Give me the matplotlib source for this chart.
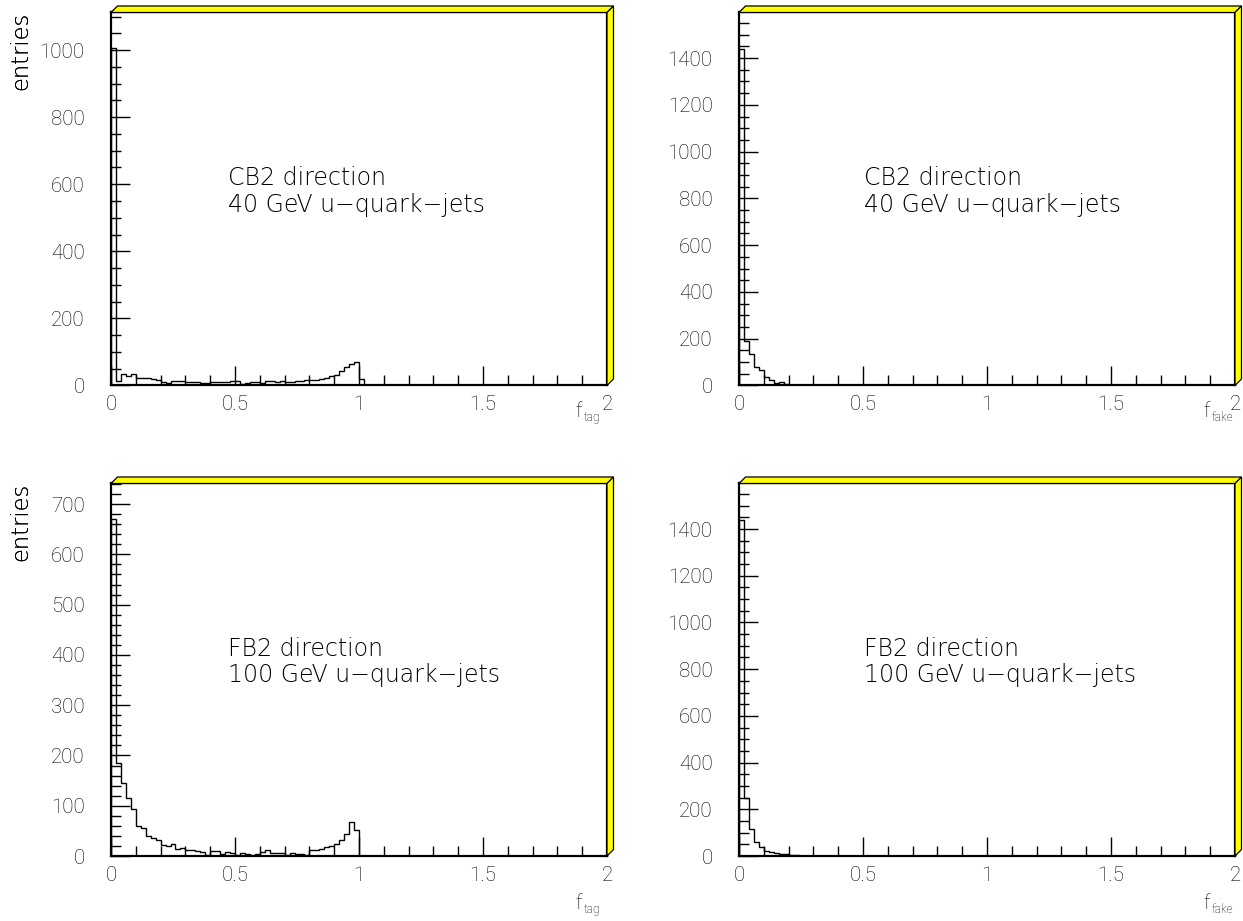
import numpy as np
import matplotlib.pyplot as plt
from matplotlib.patches import Polygon
from matplotlib.ticker import MultipleLocator

# histogram contents, 0.02 wide bins starting at 0 (remaining bins are empty)
BIN_WIDTH = 0.02

tag_cb2_40 = [1005, 12, 35, 28, 35, 22, 22, 22, 20, 17,
              10, 8, 13, 13, 12, 10, 11, 9, 8, 8,
              11, 11, 11, 11, 12, 12, 5, 7, 10, 10,
              6, 13, 14, 11, 13, 9, 10, 12, 13, 16,
              17, 17, 20, 22, 27, 32, 42, 55, 65, 70,
              18]
fake_cb2_40 = [1440, 190, 135, 80, 65, 35, 25, 12, 15, 6,
               3, 2, 4, 2, 1]
tag_fb2_100 = [670, 185, 145, 115, 93, 59, 55, 40, 35, 31,
               22, 19, 24, 14, 15, 12, 11, 9, 7, 2,
               10, 9, 4, 7, 5, 1, 5, 4, 2, 3,
               7, 11, 5, 5, 5, 2, 5, 3, 3, 2,
               11, 12, 14, 18, 20, 24, 32, 43, 67, 51]
fake_fb2_100 = [1440, 250, 114, 62, 40, 21, 16, 11, 10, 7,
                4, 4, 2, 2]

W, H = 1243, 921
plt.rcParams['font.family'] = ['Roboto', 'DejaVu Sans']
plt.rcParams['font.weight'] = 'light'
FS = 14.8
TEXT_FONT = ['DejaVu Sans', 'Roboto']
TEXT_FS = 17


def px_box(left, top, right, bottom):
    return [left / W, 1 - bottom / H, (right - left) / W, (bottom - top) / H]


def draw_frame(fig, ax, depth=6.5):
    # yellow bevel on top and right of the pad frame
    b = ax.get_position()
    dx, dy = depth / W, depth / H
    top = [(b.x0, b.y1), (b.x1, b.y1), (b.x1 + dx, b.y1 + dy), (b.x0 + dx, b.y1 + dy)]
    right = [(b.x1, b.y0), (b.x1 + dx, b.y0 + dy), (b.x1 + dx, b.y1 + dy), (b.x1, b.y1)]
    for pts in (top, right):
        fig.add_artist(Polygon(pts, closed=True, facecolor='#ffff00', edgecolor='black',
                               lw=0.9, transform=fig.transFigure))


panels = [
    (tag_cb2_40, 1112, 200, 50, 'tag', 'CB2 direction', '40 GeV u\u2212quark\u2212jets',
     (111, 12.5, 607, 385.5), 0.472, 31),
    (fake_cb2_40, 1595, 200, 50, 'fake', 'CB2 direction', '40 GeV u\u2212quark\u2212jets',
     (739, 12.5, 1235, 385.5), 0.504, 31),
    (tag_fb2_100, 741, 100, 20, 'tag', 'FB2 direction', '100 GeV u\u2212quark\u2212jets',
     (111, 483.5, 607, 856), 0.472, 53),
    (fake_fb2_100, 1595, 200, 50, 'fake', 'FB2 direction', '100 GeV u\u2212quark\u2212jets',
     (739, 483.5, 1235, 856), 0.504, 53),
]

fig = plt.figure(figsize=(W / 100, H / 100), dpi=100)

for vals, ymax, major, minor, sub, line1, line2, box, tx, xlab_off in panels:
    ax = fig.add_axes(px_box(*box))
    vals = np.asarray(vals, dtype=float)
    edges = np.arange(len(vals) + 1) * BIN_WIDTH
    ax.stairs(vals, edges, color='black', lw=1.0)

    ax.set_xlim(0, 2)
    ax.set_ylim(0, ymax)
    ax.xaxis.set_major_locator(MultipleLocator(0.5))
    ax.xaxis.set_minor_locator(MultipleLocator(0.1))
    ax.yaxis.set_major_locator(MultipleLocator(major))
    ax.yaxis.set_minor_locator(MultipleLocator(minor))
    ax.xaxis.set_major_formatter(lambda v, p: f'{v:g}')
    ax.tick_params(which='both', direction='in', top=False, right=False, width=1)
    ax.tick_params(which='major', length=14, labelsize=FS)
    ax.tick_params(which='minor', length=7)
    ax.tick_params(axis='y', which='major', pad=19)
    ax.tick_params(axis='x', which='major', pad=7)
    for s in ax.spines.values():
        s.set_linewidth(1.6)

    # two-line caption, x in data units
    ax.text(tx, 0.557, line1, transform=ax.get_xaxis_transform(), family=TEXT_FONT,
            fontsize=TEXT_FS, va='center', ha='left')
    ax.text(tx, 0.485, line2, transform=ax.get_xaxis_transform(), family=TEXT_FONT,
            fontsize=TEXT_FS, va='center', ha='left')

    # x axis title: f with a small subscript, below the right end of the axis
    b = ax.get_position()
    fx = b.x1 - 32 / W
    fy = b.y0 - xlab_off / H
    fig.text(fx, fy, 'f', fontsize=FS, ha='left', va='baseline')
    fig.text(fx + 9 / W, fy - 4 / H, sub, fontsize=8.5, ha='left', va='baseline')

    # y axis title, rotated, flush with the top of the pad
    fig.text(21 / W, b.y1 + 1 / H, 'entries', rotation=90, family=TEXT_FONT,
             fontsize=16.3, ha='center', va='top')

    draw_frame(fig, ax)

fig.savefig('out.png', dpi=100)
